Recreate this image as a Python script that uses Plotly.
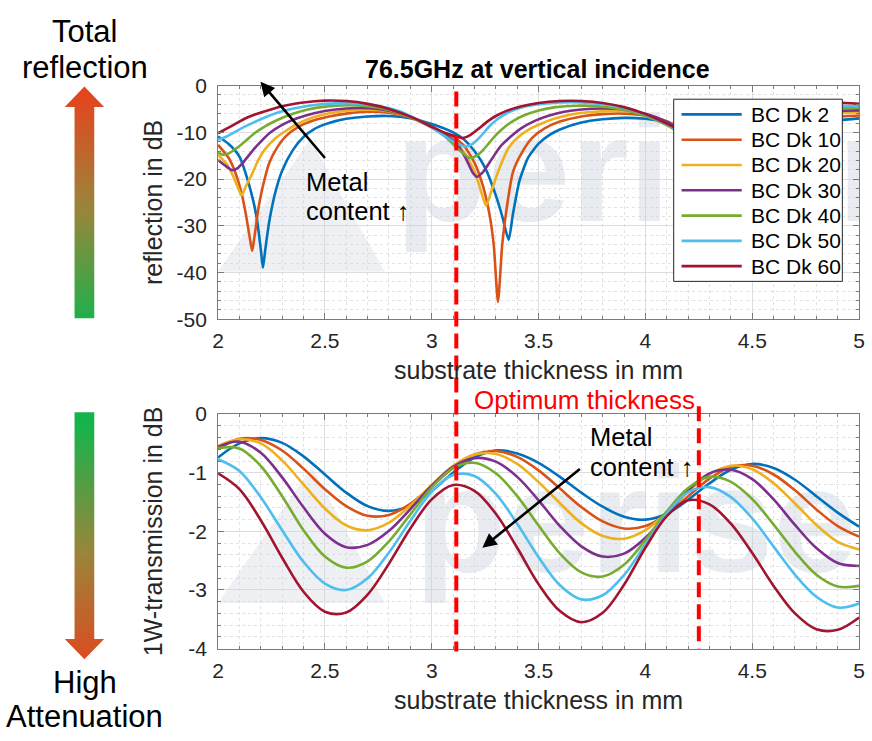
import plotly.graph_objects as go

W, H = 872, 741
FONT = "Liberation Sans, Arial, Helvetica, sans-serif"

# ---------------- data ----------------
series_names = ["BC Dk 2", "BC Dk 10", "BC Dk 20", "BC Dk 30", "BC Dk 40", "BC Dk 50", "BC Dk 60"]
series_colors = ["#0072BD", "#D95319", "#EDB120", "#7E2F8E", "#77AC30", "#4DBEEE", "#A2142F"]

# reflection (dB) vs substrate thickness (mm)
refl_x_dk2 = [2.00, 2.05, 2.10, 2.15, 2.18, 2.20, 2.21, 2.22, 2.24, 2.27, 2.30, 2.35, 2.40, 2.45, 2.50, 2.55, 2.60, 2.70, 2.80, 2.90,
              3.00, 3.10, 3.15, 3.20, 3.25, 3.30, 3.33, 3.36, 3.38, 3.41, 3.45, 3.50, 3.55, 3.60, 3.70, 3.80, 3.90, 4.00, 4.10, 4.20,
              4.30, 4.40, 4.45, 4.50, 4.52, 4.56, 4.62, 4.70, 4.80, 4.90, 5.00]
refl_dk2 = [-10.9, -12.5, -15.2, -22.0, -28.0, -35.0, -39.0, -35.5, -29.0, -22.5, -18.2, -13.8, -11.0, -9.3, -8.3, -7.6, -7.1, -6.6, -6.5, -7.0,
            -8.2, -10.0, -11.5, -14.0, -17.6, -23.5, -28.0, -33.0, -27.5, -20.5, -15.5, -12.4, -10.6, -9.4, -7.9, -7.2, -6.9, -7.1, -7.9, -9.5,
            -12.5, -18.0, -24.0, -32.0, -30.0, -21.0, -15.0, -11.5, -9.0, -7.5, -7.0]

refl_x_dk10 = [2.00, 2.05, 2.08, 2.11, 2.13, 2.15, 2.16, 2.17, 2.19, 2.21, 2.24, 2.28, 2.32, 2.38, 2.45, 2.52, 2.60, 2.70, 2.80, 2.90,
               3.00, 3.10, 3.15, 3.20, 3.24, 3.27, 3.29, 3.31, 3.33, 3.35, 3.38, 3.42, 3.47, 3.53, 3.60, 3.70, 3.80, 3.90, 4.00, 4.10,
               4.20, 4.30, 4.38, 4.42, 4.44, 4.46, 4.50, 4.56, 4.65, 4.75, 4.85, 4.95, 5.00]
refl_dk10 = [-12.7, -15.5, -18.5, -23.0, -27.5, -33.0, -35.4, -32.5, -26.0, -21.5, -16.5, -13.0, -10.7, -8.7, -7.4, -6.6, -6.0, -5.6, -5.8, -6.8,
             -8.9, -11.0, -12.8, -16.5, -21.5, -27.5, -34.0, -46.3, -34.0, -26.5, -18.5, -14.5, -11.2, -9.1, -7.7, -6.6, -6.1, -6.0, -6.4, -7.6,
             -9.8, -14.0, -22.0, -32.0, -40.0, -32.0, -22.0, -15.0, -10.5, -8.2, -7.0, -6.5, -6.4]

refl_x_dk20 = [2.00, 2.04, 2.07, 2.09, 2.11, 2.13, 2.16, 2.19, 2.22, 2.27, 2.32, 2.38, 2.45, 2.55, 2.65, 2.75, 2.85, 2.92, 3.00, 3.05,
               3.10, 3.15, 3.20, 3.23, 3.254, 3.28, 3.31, 3.36, 3.40, 3.45, 3.52, 3.58, 3.65, 3.73, 3.85, 3.95, 4.05, 4.15, 4.25, 4.32,
               4.38, 4.41, 4.44, 4.50, 4.58, 4.68, 4.80, 4.92, 5.00]
refl_dk20 = [-14.8, -16.8, -19.3, -21.5, -23.5, -21.6, -18.8, -15.8, -13.6, -11.2, -9.6, -8.0, -6.7, -5.7, -5.2, -5.2, -6.0, -7.0, -8.9, -10.2,
             -11.8, -14.2, -18.3, -22.5, -25.7, -22.5, -18.5, -13.3, -11.2, -9.5, -8.0, -7.0, -6.2, -5.7, -5.4, -5.6, -6.8, -8.8, -12.0, -16.5,
             -22.0, -25.0, -22.0, -15.5, -11.0, -8.3, -6.6, -5.9, -5.7]

refl_x_dk30 = [2.00, 2.03, 2.066, 2.09, 2.12, 2.16, 2.20, 2.24, 2.30, 2.37, 2.45, 2.55, 2.65, 2.75, 2.85, 2.92, 3.00, 3.06, 3.115, 3.16,
               3.19, 3.21, 3.24, 3.27, 3.30, 3.33, 3.38, 3.42, 3.48, 3.55, 3.62, 3.70, 3.80, 3.90, 4.00, 4.10, 4.20, 4.28, 4.34, 4.38,
               4.42, 4.48, 4.56, 4.66, 4.78, 4.90, 5.00]
refl_dk30 = [-15.9, -17.0, -18.1, -17.7, -16.3, -14.0, -12.0, -10.2, -8.4, -7.0, -5.9, -5.1, -4.8, -5.0, -5.9, -7.0, -8.8, -10.4, -12.3, -15.6,
             -18.5, -19.5, -18.5, -16.5, -14.4, -12.6, -10.5, -9.1, -7.6, -6.4, -5.6, -5.1, -4.9, -5.1, -6.0, -7.7, -10.5, -14.5, -18.5, -20.0,
             -18.5, -14.0, -10.0, -7.5, -6.0, -5.4, -5.3]

refl_x_dk40 = [2.00, 2.023, 2.05, 2.09, 2.13, 2.17, 2.22, 2.28, 2.35, 2.42, 2.50, 2.60, 2.70, 2.80, 2.90, 3.00, 3.06, 3.115, 3.15, 3.177,
               3.21, 3.24, 3.27, 3.30, 3.34, 3.38, 3.43, 3.50, 3.58, 3.68, 3.78, 3.88, 3.98, 4.08, 4.15, 4.22, 4.28, 4.32, 4.36, 4.42,
               4.50, 4.60, 4.72, 4.85, 5.00]
refl_dk40 = [-14.3, -14.8, -14.5, -13.3, -11.8, -10.2, -8.7, -7.3, -6.0, -5.1, -4.5, -4.2, -4.4, -5.2, -6.7, -8.8, -10.8, -13.2, -14.6, -15.5,
             -15.0, -13.8, -12.2, -10.6, -8.9, -7.6, -6.4, -5.3, -4.6, -4.3, -4.4, -5.0, -6.2, -8.0, -9.8, -12.5, -14.8, -15.5, -15.0, -12.0,
             -8.5, -6.5, -5.3, -4.9, -4.8]

refl_x_dk50 = [2.00, 2.04, 2.08, 2.12, 2.17, 2.23, 2.30, 2.38, 2.46, 2.55, 2.65, 2.75, 2.85, 2.92, 3.00, 3.06, 3.115, 3.154, 3.19, 3.23,
               3.27, 3.31, 3.36, 3.42, 3.50, 3.60, 3.70, 3.80, 3.90, 4.00, 4.08, 4.16, 4.24, 4.28, 4.32, 4.38, 4.45, 4.55, 4.67, 4.80,
               4.92, 5.00]
refl_dk50 = [-11.6, -10.9, -9.9, -8.9, -7.8, -6.6, -5.5, -4.7, -4.1, -3.8, -3.8, -4.3, -5.5, -7.0, -9.0, -10.8, -12.3, -13.0, -12.5, -10.8,
             -8.7, -7.1, -5.7, -4.7, -4.0, -3.6, -3.6, -4.0, -4.8, -6.2, -7.8, -9.8, -12.0, -12.8, -12.5, -10.5, -8.0, -6.0, -4.9, -4.4,
             -4.3, -4.4]

refl_x_dk60 = [2.00, 2.04, 2.085, 2.12, 2.16, 2.22, 2.30, 2.40, 2.50, 2.60, 2.70, 2.80, 2.92, 3.00, 3.06, 3.115, 3.146, 3.18, 3.22, 3.26,
               3.30, 3.35, 3.42, 3.50, 3.60, 3.70, 3.80, 3.90, 4.00, 4.08, 4.15, 4.20, 4.24, 4.28, 4.34, 4.42, 4.52, 4.64, 4.78, 4.90,
               5.00]
refl_dk60 = [-10.2, -9.2, -8.1, -7.2, -6.4, -5.5, -4.4, -3.6, -3.2, -3.3, -3.9, -5.0, -7.0, -8.8, -10.1, -10.9, -11.2, -10.6, -9.2, -7.7,
             -6.5, -5.4, -4.4, -3.7, -3.3, -3.3, -3.7, -4.6, -6.1, -7.7, -9.2, -10.2, -10.6, -10.3, -8.8, -6.6, -4.9, -3.9, -3.5, -3.6,
             -3.9]

# 1W-transmission (dB) vs substrate thickness (mm)
trans_x = [2.0, 2.1, 2.2, 2.3, 2.4, 2.5, 2.6, 2.7, 2.8, 2.9, 3.0, 3.1, 3.2, 3.3, 3.4, 3.5,
           3.6, 3.7, 3.8, 3.9, 4.0, 4.1, 4.2, 4.3, 4.4, 4.5, 4.6, 4.7, 4.8, 4.9, 5.0]
trans_dk2 = [-0.74, -0.50, -0.41, -0.49, -0.72, -1.03, -1.34, -1.57, -1.65, -1.56, -1.31, -1.00, -0.74, -0.62, -0.67, -0.83,
             -1.07, -1.34, -1.58, -1.75, -1.80, -1.70, -1.46, -1.18, -0.95, -0.85, -0.92, -1.12, -1.40, -1.68, -1.92]
trans_dk10 = [-0.60, -0.42, -0.44, -0.62, -0.93, -1.28, -1.57, -1.735, -1.72, -1.53, -1.23, -0.92, -0.69, -0.63, -0.73, -0.96,
              -1.27, -1.585, -1.83, -1.95, -1.91, -1.71, -1.40, -1.10, -0.90, -0.88, -1.03, -1.30, -1.625, -1.91, -2.09]
trans_dk20 = [-0.54, -0.43, -0.50, -0.79, -1.20, -1.61, -1.90, -1.98, -1.85, -1.56, -1.21, -0.88, -0.69, -0.68, -0.85, -1.16,
              -1.52, -1.86, -2.08, -2.125, -1.98, -1.68, -1.32, -1.025, -0.88, -0.94, -1.18, -1.525, -1.89, -2.18, -2.31]
trans_dk30 = [-0.56, -0.47, -0.66, -1.08, -1.59, -2.04, -2.27, -2.23, -1.99, -1.62, -1.22, -0.90, -0.75, -0.81, -1.07, -1.47,
              -1.91, -2.255, -2.43, -2.38, -2.11, -1.705, -1.30, -1.01, -0.95, -1.11, -1.455, -1.89, -2.285, -2.54, -2.59]
trans_dk40 = [-0.58, -0.585, -0.885, -1.40, -1.98, -2.43, -2.62, -2.51, -2.17, -1.71, -1.25, -0.92, -0.83, -1.01, -1.40, -1.90,
              -2.38, -2.70, -2.77, -2.57, -2.15, -1.66, -1.26, -1.07, -1.155, -1.45, -1.885, -2.35, -2.74, -2.94, -2.93]
trans_dk50 = [-0.77, -0.97, -1.42, -1.98, -2.52, -2.89, -3.00, -2.80, -2.36, -1.82, -1.32, -1.04, -1.055, -1.36, -1.87, -2.44,
              -2.92, -3.16, -3.09, -2.745, -2.22, -1.70, -1.33, -1.245, -1.415, -1.78, -2.26, -2.74, -3.115, -3.30, -3.23]
trans_dk60 = [-1.01, -1.28, -1.81, -2.45, -3.03, -3.37, -3.385, -3.08, -2.55, -1.95, -1.455, -1.21, -1.31, -1.70, -2.28, -2.90,
              -3.36, -3.55, -3.39, -2.91, -2.28, -1.74, -1.47, -1.54, -1.87, -2.37, -2.93, -3.40, -3.67, -3.68, -3.47]

# axis ticks
x_tickvals = [2, 2.5, 3, 3.5, 4, 4.5, 5]
x_ticktext = ["2", "2.5", "3", "3.5", "4", "4.5", "5"]
refl_tickvals = [-50, -40, -30, -20, -10, 0]
refl_ticktext = ["-50", "-40", "-30", "-20", "-10", "0"]
trans_tickvals = [-4, -3, -2, -1, 0]
trans_ticktext = ["-4", "-3", "-2", "-1", "0"]

optimum_thickness = [3.115, 4.25]

refl_x_all = [refl_x_dk2, refl_x_dk10, refl_x_dk20, refl_x_dk30, refl_x_dk40, refl_x_dk50, refl_x_dk60]
refl_all = [refl_dk2, refl_dk10, refl_dk20, refl_dk30, refl_dk40, refl_dk50, refl_dk60]
trans_all = [trans_dk2, trans_dk10, trans_dk20, trans_dk30, trans_dk40, trans_dk50, trans_dk60]

# ---------------- helpers (window pixel -> paper fraction) ----------------
def px(x):
    return x / W


def py(y):
    return 1 - y / H


AX = "#7a7a7a"
TXT = "#262626"
GRID = "#dddddd"
MINOR = "#e2e2e2"
WM = "rgba(205,212,222,0.45)"

fig = go.Figure()

# gradient arrows on the left (pixel-space overlay axis) -- drawn first
RED = "#e7421d"
GREEN = "#16b34c"
MID = "#9a853a"
top_arrow_x = [69.5, 89.5, 89.5, 99.5, 79.5, 59.5, 69.5, 69.5]
top_arrow_y = [316, 316, 98, 98, 77, 98, 98, 316]
bot_arrow_x = [69.5, 89.5, 89.5, 99.5, 79.5, 59.5, 69.5, 69.5]
bot_arrow_y = [413, 413, 647, 647, 668, 647, 647, 413]
fig.add_trace(go.Scatter(x=top_arrow_x, y=top_arrow_y, mode="lines", fill="toself",
                         line=dict(width=0, color="rgba(0,0,0,0)"),
                         fillgradient=dict(type="vertical", start=316, stop=77,
                                           colorscale=[[0, GREEN], [0.5, MID], [1, RED]]),
                         hoverinfo="skip", showlegend=False, xaxis="x3", yaxis="y3"))
fig.add_trace(go.Scatter(x=bot_arrow_x, y=bot_arrow_y, mode="lines", fill="toself",
                         line=dict(width=0, color="rgba(0,0,0,0)"),
                         fillgradient=dict(type="vertical", start=413, stop=668,
                                           colorscale=[[0, GREEN], [0.5, MID], [1, RED]]),
                         hoverinfo="skip", showlegend=False, xaxis="x3", yaxis="y3"))

# watermark (under curves)
fig.add_trace(go.Scatter(x=[2.83], y=[-21.0], mode="text", text=["<b>perisens</b>"], textposition="middle right",
                         textfont=dict(family=FONT, size=150, color=WM), hoverinfo="skip", showlegend=False,
                         cliponaxis=True, xaxis="x", yaxis="y"))
fig.add_trace(go.Scatter(x=[2.92], y=[-2.05], mode="text", text=["<b>perisens</b>"], textposition="middle right",
                         textfont=dict(family=FONT, size=150, color=WM), hoverinfo="skip", showlegend=False,
                         cliponaxis=True, xaxis="x2", yaxis="y2"))

for name, col, xs, ys in zip(series_names, series_colors, refl_x_all, refl_all):
    fig.add_trace(go.Scatter(x=xs, y=ys, mode="lines", name=name, showlegend=False,
                             line=dict(color=col, width=2.6, shape="spline", smoothing=0.6),
                             xaxis="x", yaxis="y"))
for name, col, ys in zip(series_names, series_colors, trans_all):
    fig.add_trace(go.Scatter(x=trans_x, y=ys, mode="lines", name=name, showlegend=False,
                             line=dict(color=col, width=2.6, shape="spline", smoothing=1.0),
                             xaxis="x2", yaxis="y2"))


def xaxis_cfg(anchor):
    return dict(domain=[px(215), px(865)], range=[2, 5], anchor=anchor,
                tickmode="array", tickvals=x_tickvals, ticktext=x_ticktext,
                showline=True, linecolor=AX, linewidth=1, mirror="ticks",
                ticks="inside", ticklen=6, tickcolor=AX, tickwidth=1,
                showgrid=True, gridcolor=GRID, gridwidth=1, zeroline=False,
                tickfont=dict(family=FONT, size=21, color=TXT), ticklabelstandoff=3,
                minor=dict(dtick=0.1, tick0=2, ticks="inside", ticklen=3, tickcolor=AX,
                           showgrid=True, gridcolor=MINOR, griddash="dot", gridwidth=1),
                title=dict(text="substrate thickness in mm", font=dict(family=FONT, size=25, color=TXT), standoff=10))


def yaxis_cfg(anchor, dom, rng, vals, texts, mdt, standoff):
    return dict(domain=dom, range=rng, anchor=anchor,
                tickmode="array", tickvals=vals, ticktext=texts,
                showline=True, linecolor=AX, linewidth=1, mirror="ticks",
                ticks="inside", ticklen=6, tickcolor=AX, tickwidth=1,
                showgrid=True, gridcolor=GRID, gridwidth=1, zeroline=False,
                tickfont=dict(family=FONT, size=21, color=TXT), ticklabelstandoff=6,
                minor=dict(dtick=mdt, tick0=0, ticks="inside", ticklen=3, tickcolor=AX,
                           showgrid=True, gridcolor=MINOR, griddash="dot", gridwidth=1),
                title=dict(font=dict(family=FONT, size=25, color=TXT), standoff=standoff))


ya = yaxis_cfg("x", [py(317), py(76)], [-50, 0], refl_tickvals, refl_ticktext, 2, 6.5)
ya["title"]["text"] = "reflection in dB"
yb = yaxis_cfg("x2", [py(657), py(415)], [-4, 0], trans_tickvals, trans_ticktext, 0.2, 17.5)
yb["title"]["text"] = "1W-transmission in dB"

shapes = []
# faint logo triangles of the watermark
shapes.append(dict(type="path", xref="x", yref="y", layer="between",
                   path="M 2.0,-39.8 L 2.43,-11.5 L 2.78,-39.8 Z",
                   fillcolor="rgba(205,212,222,0.35)", line=dict(width=0)))
shapes.append(dict(type="path", xref="x2", yref="y2", layer="between",
                   path="M 2.0,-3.22 L 2.44,-0.9 L 2.78,-3.22 Z",
                   fillcolor="rgba(205,212,222,0.35)", line=dict(width=0)))
# optimum thickness markers
shapes.append(dict(type="line", xref="x", yref="paper", x0=optimum_thickness[0], x1=optimum_thickness[0],
                   y0=py(82), y1=py(660), line=dict(color="#ff0000", width=4, dash="15px,7px")))
shapes.append(dict(type="line", xref="x2", yref="paper", x0=optimum_thickness[1], x1=optimum_thickness[1],
                   y0=py(407), y1=py(657), line=dict(color="#ff0000", width=4, dash="15px,7px")))

# legend box (MATLAB style, long line samples)
shapes.append(dict(type="rect", xref="paper", yref="paper", x0=px(677), x1=px(848), y0=py(278), y1=py(90),
                   fillcolor="white", line=dict(color="#262626", width=1), layer="above"))
annotations = []
for i, (name, col) in enumerate(zip(series_names, series_colors)):
    yy = 105.7 + 26.1 * i
    shapes.append(dict(type="line", xref="paper", yref="paper", x0=px(685), x1=px(746), y0=py(yy), y1=py(yy),
                       line=dict(color=col, width=2.6), layer="above"))
    annotations.append(dict(xref="paper", yref="paper", x=px(753), y=py(yy), text=name, showarrow=False,
                            xanchor="left", yanchor="middle", font=dict(family=FONT, size=21, color="black")))


def label(x, y, text, size, color="black", xanchor="center"):
    return dict(xref="paper", yref="paper", x=px(x), y=py(y), text=text, showarrow=False,
                xanchor=xanchor, yanchor="middle", align="left", font=dict(family=FONT, size=size, color=color))


annotations += [
    label(539, 59, "<b>76.5GHz at vertical incidence</b>", 25),
    label(80, 20, "Total", 31),
    label(80, 57, "reflection", 31),
    label(80, 692, "High", 31),
    label(80, 727, "Attenuation", 31),
    label(473, 400, "Optimum thickness", 26, color="#ff0000", xanchor="left"),
    label(302, 175, "Metal", 25.5, xanchor="left"),
    label(302, 205, "content ↑", 25.5, xanchor="left"),
    label(590, 439, "Metal", 25.5, xanchor="left"),
    label(590, 470, "content ↑", 25.5, xanchor="left"),
]
# black arrows
annotations.append(dict(xref="paper", yref="paper", x=px(258), y=py(72), ax=66, ay=78, text=" ",
                        font=dict(size=1), showarrow=True, arrowhead=2, arrowsize=1.1, arrowwidth=2.6,
                        arrowcolor="black", standoff=0, startstandoff=0))
annotations.append(dict(xref="paper", yref="paper", x=px(483), y=py(553), ax=99, ay=-80, text=" ",
                        font=dict(size=1), showarrow=True, arrowhead=2, arrowsize=1.1, arrowwidth=2.6,
                        arrowcolor="black", standoff=0, startstandoff=0))

fig.update_layout(
    width=W, height=H, margin=dict(l=0, r=0, t=0, b=0),
    paper_bgcolor="white", plot_bgcolor="rgba(0,0,0,0)",
    showlegend=False,
    font=dict(family=FONT, color=TXT),
    xaxis3=dict(domain=[0, 1], range=[0, W], visible=False, fixedrange=True, anchor="y3"),
    yaxis3=dict(domain=[0, 1], range=[H, 0], visible=False, fixedrange=True, anchor="x3"),
    xaxis=xaxis_cfg("y"), yaxis=ya,
    xaxis2=xaxis_cfg("y2"), yaxis2=yb,
    shapes=shapes, annotations=annotations,
)

fig.write_html("out.html")
